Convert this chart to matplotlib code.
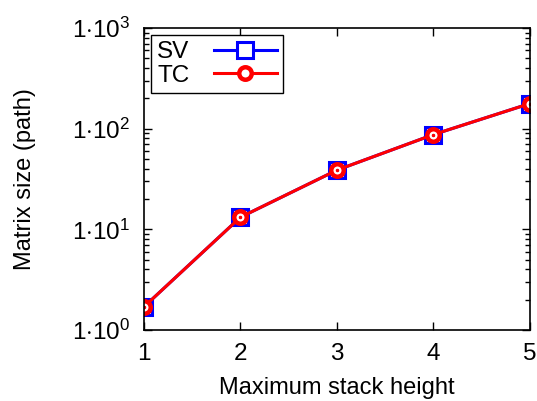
import matplotlib
matplotlib.use("Agg")
import matplotlib.pyplot as plt
from matplotlib.ticker import FixedLocator, FixedFormatter, LogLocator, NullFormatter

plt.rcParams['font.family'] = ['Liberation Sans', 'DejaVu Sans']
plt.rcParams['mathtext.fontset'] = 'custom'
plt.rcParams['mathtext.rm'] = 'Liberation Sans'
plt.rcParams['mathtext.it'] = 'Liberation Sans:italic'

x = [1, 2, 3, 4, 5]
sv = [1.7, 13.2, 38.8, 87.5, 178]
tc = [1.7, 13.2, 38.8, 87.5, 178]
ytick_vals = [1, 10, 100, 1000]
ytick_labels = [r'$1{\cdot}10^{0}$', r'$1{\cdot}10^{1}$', r'$1{\cdot}10^{2}$', r'$1{\cdot}10^{3}$']

fig = plt.figure(figsize=(5.37, 4.01), dpi=100)
ax = fig.add_axes([0.268, 0.177, 0.719, 0.753])

ax.plot(x, sv, color='#0000ff', lw=2.2, marker='s', markersize=11.5,
        markerfacecolor='white', markeredgecolor='#0000ff', markeredgewidth=2.2, label='SV')
ax.plot(x, tc, color='#ff0000', lw=2.2, marker='o', markersize=9,
        markerfacecolor='white', markeredgecolor='#ff0000', markeredgewidth=3.2, label='TC')
ax.plot(x, sv, linestyle='none', marker='.', markersize=2, color='#0000ff')
ax.plot(x, tc, linestyle='none', marker='.', markersize=3, color='#ff0000')

ax.set_yscale('log')
ax.set_xlim(1, 5)
ax.set_ylim(1, 1000)
ax.xaxis.set_major_locator(FixedLocator(x))
ax.yaxis.set_major_locator(FixedLocator(ytick_vals))
ax.yaxis.set_major_formatter(FixedFormatter(ytick_labels))
ax.yaxis.set_minor_locator(LogLocator(base=10, subs=range(2, 10)))
ax.yaxis.set_minor_formatter(NullFormatter())

ax.tick_params(which='both', direction='in', top=True, right=True, labelsize=17.5)
ax.tick_params(axis='x', pad=9)
ax.tick_params(axis='y', pad=10)
ax.tick_params(which='major', length=6, width=1)
ax.tick_params(which='minor', length=3.5, width=1)
for s in ax.spines.values():
    s.set_linewidth(1.2)

ax.set_xlabel('Maximum stack height', fontsize=17, labelpad=9)
ax.set_ylabel('Matrix size (path)', fontsize=17, labelpad=26)

leg = ax.legend(loc='upper left', markerfirst=False, fontsize=17.5, fancybox=False,
                edgecolor='black', framealpha=1, handlelength=2.6, handletextpad=1.0,
                borderpad=0.25, labelspacing=0.05, borderaxespad=0.3)
leg.get_frame().set_linewidth(1)

fig.savefig('out.png', dpi=100)
